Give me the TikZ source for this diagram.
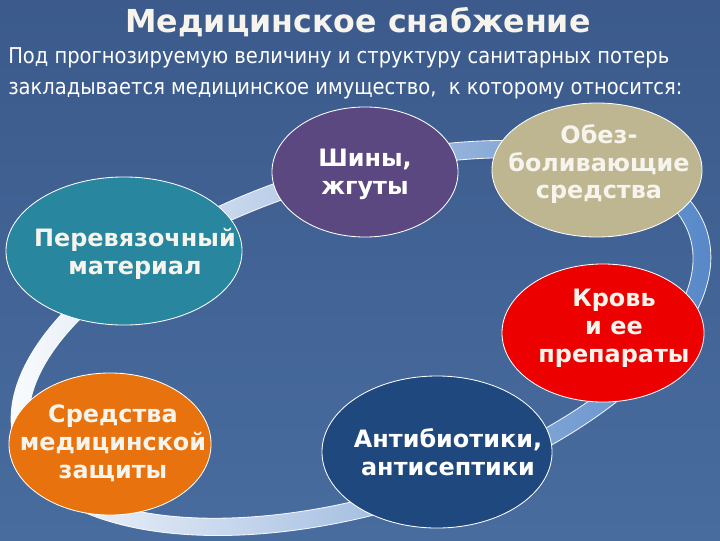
\documentclass[tikz,border=0pt]{standalone}
\usepackage{fontspec}
\setmainfont{DejaVu Sans}
\newfontfamily\condfont[FakeStretch=0.895]{DejaVu Sans}
\usetikzlibrary{shapes.geometric}

\definecolor{bgtop}{RGB}{60,90,140}
\definecolor{bgbot}{RGB}{72,108,158}
\definecolor{cshiny}{RGB}{92,72,128}
\definecolor{cobez}{RGB}{190,182,144}
\definecolor{cperev}{RGB}{40,134,158}
\definecolor{ckrov}{RGB}{236,0,0}
\definecolor{csredst}{RGB}{232,114,14}
\definecolor{cantib}{RGB}{30,72,126}
\definecolor{txtlight}{RGB}{246,244,236}
\definecolor{ringblue}{RGB}{82,132,198}

\begin{document}
\begin{tikzpicture}[x=0.025cm,y=-0.025cm,
  item/.style={ellipse, draw=white, line width=0.6pt, inner sep=0pt},
  itemtext/.style={font=\bfseries\fontsize{17}{19.8}\selectfont, align=center, text=white, inner sep=0pt},
  ringedge/.style={draw=white, line width=0.6pt, opacity=0.9},
]
\useasboundingbox (0,0) rectangle (720,540);
\shade[top color=bgtop, bottom color=bgbot] (0,0) rectangle (720,540);

% ring
\coordinate (rc) at (361,338);
\begin{scope}[rotate around={17.1:(rc)}]
  \shade[even odd rule, left color=white, middle color=white!88!ringblue, right color=ringblue]
    (rc) ellipse [x radius=9.05cm, y radius=4.35cm]
    (rc) ellipse [x radius=8.6cm, y radius=3.9cm];
  \path[ringedge] (rc) ellipse [x radius=9.05cm, y radius=4.35cm];
  \path[ringedge] (rc) ellipse [x radius=8.6cm, y radius=3.9cm];
\end{scope}

% title and intro
\node[font=\bfseries\fontsize{22.5}{26}\selectfont, text=txtlight] (title) at (358,22) {Медицинское снабжение};
\node[anchor=west, align=left, inner sep=0pt, font=\condfont\fontsize{15.5}{22}\selectfont, text=white] (intro) at (8,73)
  {Под прогнозируемую величину и структуру санитарных потерь\\закладывается медицинское имущество,\ \ к которому относится:};

% items
\node[item, fill=cshiny, minimum width=4.65cm, minimum height=3.25cm,
  label={[itemtext, yshift=-1.4pt]center:{Шины,\\жгуты}}] (shiny) at (365,172) {};
\node[item, fill=cobez, minimum width=5.25cm, minimum height=3.35cm,
  label={[itemtext, text=txtlight, xshift=1.4pt, yshift=4.2pt]center:{Обез-\\боливающие\\средства}}] (obez) at (597,170) {};
\node[item, fill=cperev, minimum width=5.9cm, minimum height=3.7cm,
  label={[itemtext, text=txtlight, xshift=7.8pt, yshift=-2.1pt]center:{Перевязочный\\материал}}] (perev) at (124,251) {};
\node[item, fill=ckrov, minimum width=5.05cm, minimum height=3.45cm,
  label={[itemtext, text=txtlight, xshift=7.8pt, yshift=3.5pt]center:{Кровь\\и ее\\препараты}}] (krov) at (603,333) {};
\node[item, fill=csredst, minimum width=5.05cm, minimum height=3.55cm,
  label={[itemtext, text=txtlight, xshift=2.1pt, yshift=0.7pt]center:{Средства\\медицинской\\защиты}}] (sredst) at (110,444) {};
\node[item, fill=cantib, minimum width=5.75cm, minimum height=3.8cm,
  label={[itemtext, xshift=7.8pt]center:{Антибиотики,\\антисептики}}] (antib) at (437,452) {};
\end{tikzpicture}
\end{document}
